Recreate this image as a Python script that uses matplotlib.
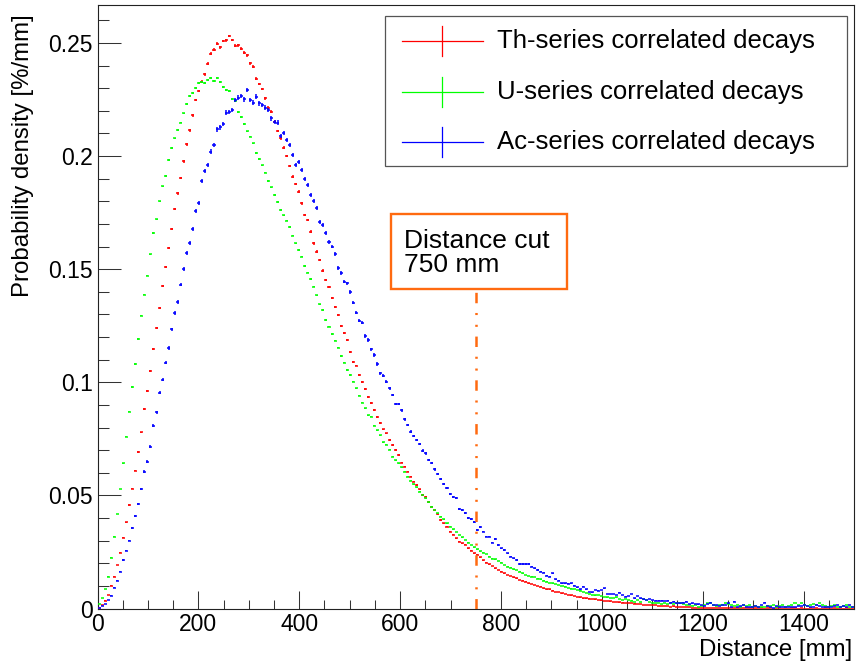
import numpy as np
import matplotlib
matplotlib.use("Agg")
import matplotlib.pyplot as plt
from matplotlib.patches import Rectangle
from matplotlib.ticker import MultipleLocator, FuncFormatter

plt.rcParams['font.family'] = ['Liberation Sans', 'DejaVu Sans']
plt.rcParams['lines.scale_dashes'] = False

# ---------------- data (bin width 6 mm, 0..1500 mm) ----------------
bin_width = 6.0
bin_edges_min, bin_edges_max = 0.0, 1500.0

th_series = [
 0.0004,0.0015,0.0035,0.0060,0.0101,0.0141,0.0192,0.0247,0.0312,0.0381,
 0.0458,0.0530,0.0609,0.0692,0.0779,0.0883,0.0960,0.1051,0.1147,0.1241,
 0.1327,0.1424,0.1511,0.1595,0.1679,0.1767,0.1835,0.1903,0.1977,0.2052,
 0.2114,0.2180,0.2248,0.2288,0.2329,0.2362,0.2409,0.2453,0.2471,0.2496,
 0.2481,0.2509,0.2512,0.2531,0.2513,0.2488,0.2490,0.2475,0.2457,0.2446,
 0.2410,0.2395,0.2342,0.2319,0.2297,0.2255,0.2214,0.2196,0.2152,0.2111,
 0.2078,0.2037,0.2000,0.1956,0.1909,0.1877,0.1843,0.1791,0.1740,0.1718,
 0.1666,0.1614,0.1578,0.1541,0.1494,0.1452,0.1420,0.1371,0.1334,0.1296,
 0.1250,0.1216,0.1187,0.1135,0.1091,0.1074,0.1032,0.1003,0.0969,0.0936,
 0.0907,0.0878,0.0848,0.0819,0.0792,0.0774,0.0745,0.0723,0.0701,0.0679,
 0.0645,0.0627,0.0605,0.0583,0.0561,0.0546,0.0527,0.0502,0.0494,0.0472,
 0.0450,0.0435,0.0416,0.0391,0.0377,0.0362,0.0340,0.0325,0.0310,0.0295,
 0.0288,0.0281,0.0266,0.0256,0.0244,0.0237,0.0226,0.0214,0.0203,0.0195,
 0.0188,0.0178,0.0170,0.0163,0.0155,0.0148,0.0144,0.0138,0.0133,0.0126,
 0.0123,0.0119,0.0111,0.0108,0.0104,0.0099,0.0097,0.0089,0.0085,0.0085,
 0.0079,0.0074,0.0073,0.0067,0.0063,0.0060,0.0058,0.0054,0.0052,0.0049,
 0.0045,0.0045,0.0044,0.0042,0.0040,0.0039,0.0036,0.0034,0.0032,0.0031,
 0.0030,0.0028,0.0027,0.0026,0.0025,0.0024,0.0023,0.0022,0.0021,0.0019,
 0.0016,0.0016,0.0015,0.0014,0.0014,0.0012,0.0012,0.0011,0.0011,0.0008,
 0.0009,0.0008,0.0006,0.0005,0.0006,0.0005,0.0004,0.0003,0.0004,0.0003,
 0.0002,0.0003,0.0002,0.0003,0.0001,0.0002,0.0002,0.0001,0.0002,0.0001,
 0.0002,0.0001,0.0001,0.0002,0.0001,0.0001,0.0001,0.0002,0.0001,0.0001,
 0.0000,0.0001,0.0001,0.0000,0.0001,0.0001,0.0000,0.0001,0.0000,0.0001,
 0.0001,0.0000,0.0001,0.0000,0.0000,0.0001,0.0000,0.0001,0.0000,0.0000,
 0.0001,0.0000,0.0000,0.0001,0.0000,0.0000,0.0000,0.0001,0.0000,0.0000]

u_series = [
 0.0020,0.0045,0.0085,0.0141,0.0225,0.0318,0.0418,0.0528,0.0642,0.0760,
 0.0869,0.0979,0.1081,0.1191,0.1295,0.1387,0.1471,0.1566,0.1660,0.1720,
 0.1800,0.1866,0.1911,0.1984,0.2037,0.2078,0.2115,0.2148,0.2189,0.2230,
 0.2266,0.2280,0.2302,0.2322,0.2329,0.2324,0.2336,0.2344,0.2332,0.2344,
 0.2329,0.2307,0.2292,0.2289,0.2251,0.2243,0.2196,0.2174,0.2142,0.2109,
 0.2086,0.2056,0.2015,0.1988,0.1959,0.1927,0.1890,0.1862,0.1829,0.1796,
 0.1762,0.1738,0.1715,0.1686,0.1648,0.1614,0.1585,0.1556,0.1514,0.1485,
 0.1457,0.1423,0.1385,0.1345,0.1320,0.1276,0.1246,0.1214,0.1184,0.1153,
 0.1116,0.1087,0.1054,0.1032,0.1003,0.0973,0.0941,0.0910,0.0885,0.0855,
 0.0848,0.0807,0.0789,0.0767,0.0735,0.0723,0.0701,0.0671,0.0656,0.0642,
 0.0624,0.0605,0.0583,0.0565,0.0550,0.0536,0.0516,0.0502,0.0487,0.0469,
 0.0450,0.0435,0.0421,0.0406,0.0394,0.0376,0.0362,0.0350,0.0338,0.0325,
 0.0315,0.0303,0.0291,0.0281,0.0270,0.0262,0.0253,0.0247,0.0241,0.0229,
 0.0220,0.0217,0.0211,0.0203,0.0192,0.0185,0.0181,0.0173,0.0170,0.0163,
 0.0155,0.0148,0.0144,0.0141,0.0138,0.0132,0.0129,0.0123,0.0119,0.0114,
 0.0111,0.0108,0.0104,0.0099,0.0097,0.0092,0.0088,0.0085,0.0082,0.0079,
 0.0073,0.0067,0.0064,0.0061,0.0058,0.0060,0.0055,0.0052,0.0049,0.0045,
 0.0045,0.0049,0.0041,0.0038,0.0041,0.0038,0.0035,0.0030,0.0038,0.0030,
 0.0041,0.0038,0.0030,0.0026,0.0023,0.0023,0.0020,0.0026,0.0020,0.0023,
 0.0020,0.0023,0.0026,0.0020,0.0015,0.0015,0.0011,0.0015,0.0008,0.0011,
 0.0015,0.0023,0.0026,0.0015,0.0011,0.0015,0.0015,0.0023,0.0020,0.0015,
 0.0011,0.0015,0.0008,0.0015,0.0011,0.0015,0.0008,0.0011,0.0005,0.0008,
 0.0005,0.0011,0.0011,0.0015,0.0005,0.0011,0.0015,0.0005,0.0011,0.0015,
 0.0023,0.0015,0.0026,0.0015,0.0011,0.0015,0.0020,0.0015,0.0023,0.0015,
 0.0011,0.0005,0.0011,0.0015,0.0008,0.0005,0.0011,0.0015,0.0008,0.0005]

ac_series = [
 0.0003,0.0010,0.0020,0.0038,0.0057,0.0092,0.0123,0.0163,0.0214,0.0256,
 0.0300,0.0356,0.0410,0.0462,0.0527,0.0605,0.0649,0.0715,0.0808,0.0867,
 0.0954,0.1012,0.1087,0.1152,0.1234,0.1306,0.1355,0.1432,0.1502,0.1572,
 0.1617,0.1679,0.1757,0.1794,0.1891,0.1935,0.1961,0.2020,0.2049,0.2118,
 0.2127,0.2142,0.2192,0.2196,0.2204,0.2248,0.2258,0.2266,0.2251,0.2292,
 0.2248,0.2236,0.2263,0.2233,0.2226,0.2214,0.2204,0.2167,0.2152,0.2148,
 0.2089,0.2101,0.2071,0.2049,0.2005,0.1961,0.1975,0.1939,0.1897,0.1872,
 0.1828,0.1803,0.1769,0.1710,0.1695,0.1659,0.1622,0.1600,0.1567,0.1504,
 0.1482,0.1445,0.1437,0.1400,0.1352,0.1308,0.1272,0.1263,0.1205,0.1187,
 0.1146,0.1121,0.1081,0.1040,0.1028,0.1003,0.0973,0.0944,0.0904,0.0904,
 0.0877,0.0836,0.0811,0.0782,0.0763,0.0745,0.0727,0.0698,0.0686,0.0656,
 0.0642,0.0615,0.0594,0.0572,0.0550,0.0531,0.0506,0.0494,0.0487,0.0438,
 0.0435,0.0421,0.0401,0.0394,0.0384,0.0347,0.0359,0.0340,0.0318,0.0318,
 0.0291,0.0306,0.0281,0.0266,0.0259,0.0244,0.0229,0.0222,0.0215,0.0197,
 0.0197,0.0196,0.0196,0.0185,0.0177,0.0170,0.0163,0.0158,0.0144,0.0141,
 0.0156,0.0129,0.0123,0.0112,0.0112,0.0109,0.0112,0.0100,0.0094,0.0085,
 0.0097,0.0085,0.0073,0.0072,0.0082,0.0079,0.0082,0.0089,0.0064,0.0064,
 0.0064,0.0060,0.0070,0.0060,0.0052,0.0055,0.0064,0.0045,0.0055,0.0045,
 0.0041,0.0038,0.0042,0.0038,0.0035,0.0035,0.0035,0.0033,0.0035,0.0026,
 0.0030,0.0023,0.0023,0.0026,0.0030,0.0020,0.0023,0.0020,0.0018,0.0015,
 0.0011,0.0020,0.0026,0.0015,0.0015,0.0011,0.0015,0.0015,0.0023,0.0008,
 0.0030,0.0008,0.0011,0.0015,0.0005,0.0005,0.0008,0.0011,0.0005,0.0015,
 0.0026,0.0011,0.0005,0.0004,0.0011,0.0005,0.0008,0.0008,0.0005,0.0005,
 0.0005,0.0011,0.0011,0.0015,0.0011,0.0008,0.0005,0.0015,0.0011,0.0005,
 0.0005,0.0008,0.0005,0.0011,0.0015,0.0008,0.0011,0.0005,0.0015,0.0008]

series_labels = ["Th-series correlated decays",
                 "U-series correlated decays",
                 "Ac-series correlated decays"]
series_colors = ["#ff0000", "#00ff00", "#0000ff"]
# statistical error scale (error ~ scale * sqrt(content))
error_scales = [0.00125, 0.0008, 0.0021]

distance_cut = 750.0
cut_label = "Distance cut\n750 mm"
x_ticks = [0, 200, 400, 600, 800, 1000, 1200, 1400]
y_ticks = [0, 0.05, 0.1, 0.15, 0.2, 0.25]

# ---------------- figure ----------------
W, H = 859, 664
fig = plt.figure(figsize=(W / 100, H / 100), dpi=100)
ax_l, ax_r, ax_t, ax_b = 97.5, 854.0, 5.0, 608.5
ax = fig.add_axes([ax_l / W, 1 - ax_b / H, (ax_r - ax_l) / W, (ax_b - ax_t) / H])
ymax = 0.2668
ax.set_xlim(bin_edges_min, bin_edges_max)
ax.set_ylim(0, ymax)

centers = np.arange(len(th_series)) * bin_width + bin_width / 2
for vals, col, sc in zip([th_series, u_series, ac_series], series_colors, error_scales):
    v = np.array(vals)
    ax.errorbar(centers, v, xerr=bin_width / 2, yerr=sc * np.sqrt(v),
                fmt='none', ecolor=col, elinewidth=1.1, capsize=0, zorder=3)

def ax_x(px):
    return (px - ax_l) / (ax_r - ax_l)

def ax_y(px):
    return (ax_b - px) / (ax_b - ax_t)

# distance-cut line and label box
box_bottom_y = ax_y(289) * ymax
ax.plot([distance_cut, distance_cut], [0, box_bottom_y], color="#ff6a10",
        lw=1.8, linestyle=(0, (7.5, 7.0, 1.5, 7.0, 1.5, 7.0)), zorder=4,
        dash_capstyle='butt')
ax.add_patch(Rectangle((ax_x(391), ax_y(289)), ax_x(567) - ax_x(391), ax_y(214) - ax_y(289),
                       transform=ax.transAxes, facecolor='white', edgecolor="#ff6a10",
                       lw=1.7, zorder=5))
ax.text(ax_x(404), ax_y(253), cut_label, transform=ax.transAxes, ha='left',
        va='center', fontsize=19, linespacing=1.05, zorder=6)

# legend (ROOT-style box)
ax.add_patch(Rectangle((ax_x(385), ax_y(166)), ax_x(847) - ax_x(385), ax_y(16) - ax_y(166),
                       transform=ax.transAxes, facecolor='white', edgecolor="#555555",
                       lw=0.9, zorder=7))
row_px = [41, 91.5, 141.5]
for lab, col, ypx in zip(series_labels, series_colors, row_px):
    yy = ax_y(ypx)
    dy = 15 / (ax_b - ax_t)
    ax.plot([ax_x(402), ax_x(483)], [yy, yy], color=col, lw=0.9,
            transform=ax.transAxes, zorder=8)
    ax.plot([ax_x(442), ax_x(442)], [yy - dy, yy + dy], color=col, lw=0.9,
            transform=ax.transAxes, zorder=8)
    ax.text(ax_x(497), yy, lab, transform=ax.transAxes, ha='left', va='center',
            fontsize=18.5, zorder=8)

# axes styling
ax.set_xticks(x_ticks)
ax.set_yticks(y_ticks)
ax.xaxis.set_minor_locator(MultipleLocator(50))
ax.yaxis.set_minor_locator(MultipleLocator(0.01))
ax.yaxis.set_major_formatter(FuncFormatter(lambda v, p: "%g" % v))
ax.tick_params(axis='x', which='major', direction='in', length=13, width=0.75,
               labelsize=16.5, pad=3.5, color='#333333')
ax.tick_params(axis='x', which='minor', direction='in', length=6.5, width=0.75, color='#333333')
ax.tick_params(axis='y', which='major', direction='in', length=16.8, width=0.75,
               labelsize=16.5, pad=3.5, color='#333333')
ax.tick_params(axis='y', which='minor', direction='in', length=8.2, width=0.75, color='#333333')
for s in ax.spines.values():
    s.set_linewidth(0.8)
    s.set_color('#222222')

ax.set_xlabel("Distance [mm]", fontsize=17.3, ha='right', va='center')
ax.xaxis.set_label_coords(ax_x(852), ax_y(650))
ax.set_ylabel("Probability density [%/mm]", fontsize=17.3)
ylab = ax.yaxis.label
ylab.set_rotation(90)
ylab.set_rotation_mode('anchor')
ylab.set_horizontalalignment('right')
ylab.set_verticalalignment('center')
ax.yaxis.set_label_coords(ax_x(23), ax_y(14))

fig.savefig("out.png", dpi=100)
